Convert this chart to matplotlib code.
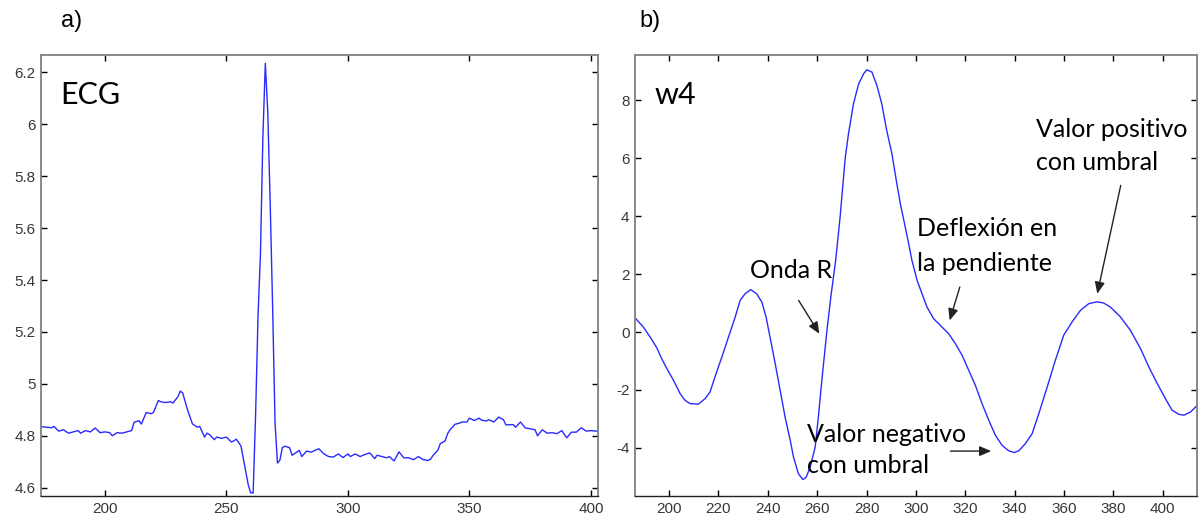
import matplotlib
matplotlib.use('Agg')
import matplotlib.pyplot as plt
from matplotlib.ticker import FuncFormatter

# ECG samples read off panel a)
ecg_x = [173, 176, 178, 179, 181, 183, 185, 187, 189, 190, 192, 194, 196, 198,
         200, 202, 203, 205, 207, 209, 211, 212, 214, 215, 217, 219, 220, 222,
         223, 225, 227, 228, 230, 231, 232, 234, 236, 238, 239, 241, 242, 243,
         245, 246, 248, 250, 252, 253, 254, 255, 256, 257, 258, 259, 260, 261,
         262, 263, 264, 265, 266, 267, 268, 269, 270, 271, 272, 273, 274, 276,
         277, 279, 280, 281, 283, 285, 286, 288, 290, 292, 294, 296, 298, 300,
         301, 303, 305, 307, 309, 311, 312, 314, 316, 317, 319, 321, 323, 325,
         327, 329, 331, 333, 334, 335, 337, 338, 340, 341, 342, 343, 344, 346,
         347, 349, 350, 352, 354, 355, 357, 358, 360, 361, 362, 364, 365, 368,
         369, 371, 373, 375, 377, 378, 380, 382, 384, 386, 388, 390, 392, 394,
         396, 398, 400, 402, 404]
ecg_y = [4.836, 4.833, 4.831, 4.836, 4.818, 4.823, 4.810, 4.815, 4.820, 4.810,
         4.820, 4.815, 4.830, 4.812, 4.815, 4.812, 4.800, 4.812, 4.810, 4.815,
         4.820, 4.852, 4.858, 4.845, 4.890, 4.885, 4.890, 4.936, 4.931, 4.928,
         4.931, 4.926, 4.950, 4.972, 4.965, 4.900, 4.846, 4.833, 4.836, 4.795,
         4.810, 4.805, 4.785, 4.795, 4.790, 4.795, 4.776, 4.780, 4.787, 4.775,
         4.760, 4.710, 4.660, 4.610, 4.580, 4.580, 4.880, 5.260, 5.500, 5.950,
         6.235, 6.050, 5.700, 5.300, 4.850, 4.695, 4.706, 4.754, 4.760, 4.754,
         4.725, 4.737, 4.744, 4.720, 4.741, 4.737, 4.742, 4.750, 4.731, 4.720,
         4.718, 4.730, 4.716, 4.730, 4.720, 4.730, 4.720, 4.728, 4.734, 4.712,
         4.725, 4.720, 4.715, 4.720, 4.703, 4.738, 4.715, 4.715, 4.708, 4.720,
         4.708, 4.705, 4.710, 4.724, 4.744, 4.770, 4.780, 4.808, 4.823, 4.833,
         4.844, 4.849, 4.853, 4.853, 4.868, 4.859, 4.868, 4.860, 4.857, 4.862,
         4.853, 4.862, 4.872, 4.862, 4.842, 4.843, 4.833, 4.853, 4.830, 4.827,
         4.823, 4.800, 4.823, 4.810, 4.812, 4.808, 4.820, 4.792, 4.814, 4.814,
         4.831, 4.818, 4.820, 4.818, 4.818]

# wavelet scale 4 read off panel b)
w4_x = [186.2, 189.6, 192.3, 195.0, 197.0, 199.1, 201.8, 204.5, 206.5, 208.5,
        211.9, 214.6, 216.6, 218.6, 221.4, 224.1, 226.8, 228.8, 230.8, 233.1,
        235.5, 237.6, 239.3, 240.9, 243.0, 245.0, 247.0, 249.1, 250.4, 252.4,
        254.2, 255.5, 257.2, 259.2, 260.5, 261.9, 263.9, 265.6, 267.5,
        269.3, 271.4, 272.7, 274.7, 276.8, 278.8, 280.1, 282.2, 284.2, 286.2,
        288.2, 290.3, 292.3, 293.7, 295.7, 297.5, 298.4, 300.5, 302.5, 304.5,
        307.2, 310.6, 313.3, 316.0, 318.7, 321.4, 324.1, 326.8, 329.5, 332.2,
        334.9, 337.6, 339.9, 341.7, 344.4, 347.1, 349.8, 353.2, 356.5, 359.9,
        363.3, 366.7, 370.1, 373.4, 376.1, 378.8, 382.9, 386.9, 391.0, 394.4,
        397.8, 401.1, 403.8, 406.5, 408.6, 411.3, 414.0]
w4_y = [0.49, 0.17, -0.17, -0.54, -0.92, -1.26, -1.67, -2.13, -2.36, -2.47,
        -2.49, -2.30, -2.07, -1.55, -0.86, -0.17, 0.52, 1.09, 1.32, 1.46,
        1.32, 1.03, 0.52, -0.17, -1.09, -2.01, -2.93, -3.74, -4.31, -4.89,
        -5.09, -5.02, -4.66, -3.97, -2.93, -1.67, 0.00, 1.25, 2.47,
        3.97, 6.03, 6.84, 7.87, 8.56, 8.91, 9.05, 8.97, 8.51, 7.87,
        6.95, 6.15, 5.11, 4.43, 3.62, 2.87, 2.47, 1.78, 1.32, 0.86,
        0.46, 0.17, -0.06, -0.40, -0.80, -1.32, -1.84, -2.47, -3.04, -3.56,
        -3.91, -4.10, -4.16, -4.10, -3.85, -3.51, -2.82, -1.90, -0.98, -0.11,
        0.35, 0.75, 0.98, 1.04, 1.00, 0.86, 0.52, 0.06, -0.57, -1.21,
        -1.78, -2.30, -2.70, -2.84, -2.87, -2.76, -2.53]

ecg_xticks = [200, 250, 300, 350, 400]
ecg_yticks = [4.6, 4.8, 5.0, 5.2, 5.4, 5.6, 5.8, 6.0, 6.2]
w4_xticks = [200, 220, 240, 260, 280, 300, 320, 340, 360, 380, 400]
w4_yticks = [-4, -2, 0, 2, 4, 6, 8]

plt.rcParams['font.family'] = ['Liberation Sans', 'DejaVu Sans']
plt.rcParams['axes.unicode_minus'] = False
note_font = 'Lato'

fig = plt.figure(figsize=(12, 5.2), dpi=100)
ax1 = fig.add_axes([41/1200, 24/520, 557/1200, 441/520])
ax2 = fig.add_axes([635/1200, 24/520, 562/1200, 441/520])

line_col = '#2a2aff'
ax1.plot(ecg_x, ecg_y, color=line_col, lw=1.0)
ax2.plot(w4_x, w4_y, color=line_col, lw=1.0)

ax1.set_xlim(173.7, 402.9)
ax1.set_ylim(4.568, 6.267)
ax2.set_xlim(186.2, 413.9)
ax2.set_ylim(-5.66, 9.56)

ax1.set_xticks(ecg_xticks)
ax1.set_yticks(ecg_yticks)
ax2.set_xticks(w4_xticks)
ax2.set_yticks(w4_yticks)

fmt = FuncFormatter(lambda v, p: '%g' % round(v, 3))
for ax in (ax1, ax2):
    ax.xaxis.set_major_formatter(fmt)
    ax.yaxis.set_major_formatter(fmt)
    ax.tick_params(direction='in', length=4, width=1, labelsize=11,
                   labelcolor='#383838', top=True, right=True, pad=4)
    for side in ('left', 'top', 'right'):
        ax.spines[side].set_color('#808080')
        ax.spines[side].set_linewidth(1.3)
    ax.spines['bottom'].set_color('#222222')
    ax.spines['bottom'].set_linewidth(1.0)

# panel labels and titles
fig.text(61/1200, 1 - 21/520, 'a)', fontsize=17, va='center', ha='left')
fig.text(639/1200, 1 - 21/520, 'b)', fontsize=17, va='center', ha='left')
ax1.text(0.035, 0.91, 'ECG', transform=ax1.transAxes, fontsize=22,
         family=note_font, va='center', ha='left')
ax2.text(0.035, 0.91, 'w4', transform=ax2.transAxes, fontsize=22,
         family=note_font, va='center', ha='left')

# annotations on w4
def note(x, y, s):
    ax2.text(x, y, s, fontsize=18, family=note_font, ha='left', va='baseline')

note(232.9, 1.85, 'Onda R')
note(300.6, 3.33, 'Deflexión en')
note(300.6, 2.12, 'la pendiente')
note(348.5, 6.72, 'Valor positivo')
note(348.5, 5.58, 'con umbral')
note(256.0, -3.79, 'Valor negativo')
note(256.0, -4.87, 'con umbral')

arrow = dict(arrowstyle='-|>,head_length=0.7,head_width=0.3', color='#222222',
             lw=1.0, shrinkA=0, shrinkB=0)
ax2.annotate('', xy=(260.9, -0.06), xytext=(252.5, 1.09), arrowprops=arrow)
ax2.annotate('', xy=(313.7, 0.40), xytext=(317.8, 1.55), arrowprops=arrow)
ax2.annotate('', xy=(373.5, 1.32), xytext=(383.0, 5.06), arrowprops=arrow)
ax2.annotate('', xy=(330.5, -4.11), xytext=(314.0, -4.11), arrowprops=arrow)

fig.savefig('out.png', dpi=100)
